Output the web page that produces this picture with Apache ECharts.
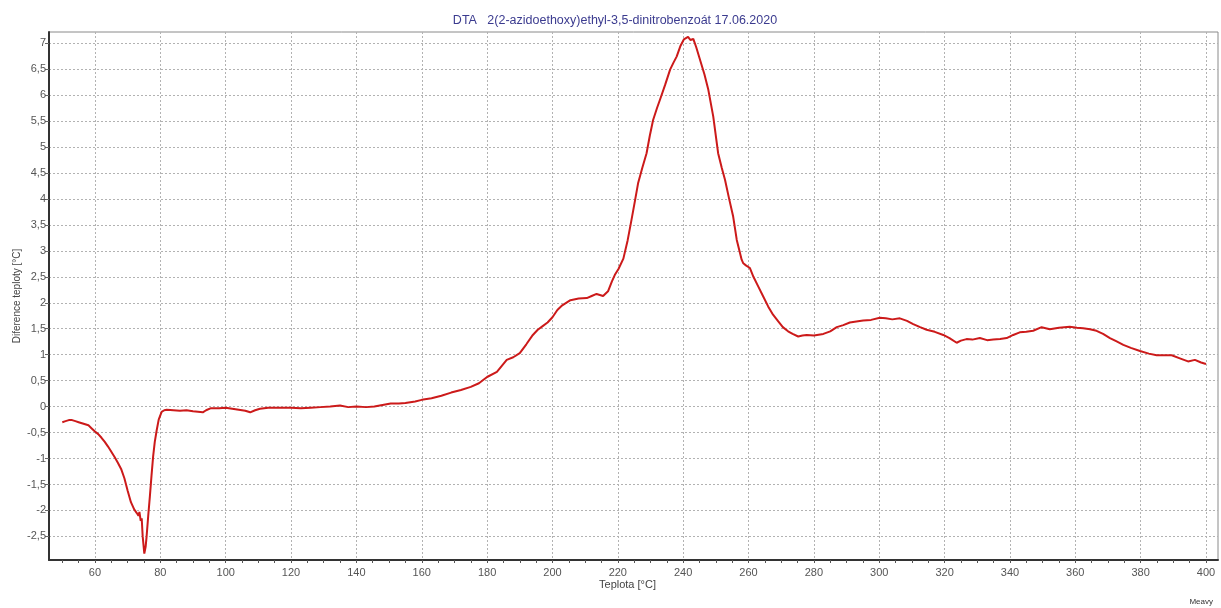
<!DOCTYPE html>
<html>
<head>
<meta charset="utf-8">
<title>DTA 2(2-azidoethoxy)ethyl-3,5-dinitrobenzoát</title>
<script src="https://cdn.jsdelivr.net/npm/echarts@6/dist/echarts.min.js"></script>
<style>
  html, body { margin: 0; padding: 0; background: #ffffff; }
  #chart { width: 1221px; height: 608px; }
</style>
</head>
<body>
<div id="chart"></div>
<script>
// Temperature [°C]
const teplota = [
  50, 51, 52, 53, 54, 55, 56, 57, 58, 59,
  60, 61, 62, 63, 64, 65, 66, 67, 68, 69,
  70, 71, 72, 72.8, 73.3, 73.6, 74.0, 74.3, 74.6, 75.1,
  75.5, 75.8, 76.3, 76.8, 77.3, 77.8, 78.3, 78.9, 79.5, 80.4,
  81.2, 82, 84, 86, 88, 90, 91.5, 93, 94, 95.5,
  98, 100, 102, 104, 106, 107.5, 109, 110.5, 113, 116,
  118.5, 120, 123, 126, 129, 132, 135, 137.5, 140, 143,
  145.5, 148, 150.5, 153, 155, 158, 160, 163, 166, 169,
  172, 175, 177.5, 180, 183, 186, 188, 190, 192, 194,
  195.5, 197, 198.5, 200, 201.5, 203, 205.5, 208, 210.5, 212,
  213.5, 215.5, 217, 218.2, 219.2, 220.2, 221.7, 223, 224.2, 225.3,
  226.2, 227.5, 228.8, 229.8, 230.8, 232, 232.9, 234.5, 236.0, 237.0,
  238.0, 239.2, 240.2, 240.8, 241.5, 242.2, 243.1, 244.0, 245.2, 246.5,
  247.7, 249.2, 250.7, 251.8, 252.8, 254.0, 255.3, 256.4, 257.9, 258.4,
  259.2, 260.4, 261.5, 263.0, 264.5, 266.0, 267.5, 269.1, 270.5, 272.1,
  273.5, 275.2, 276.5, 277.8, 280, 282.9, 285, 287.0, 289, 291.0,
  293, 295.1, 297.5, 300.2, 302, 304, 306.3, 308.5, 310.4, 312.5,
  314.5, 317, 319.6, 321.5, 323.7, 325, 326.7, 328.5, 330.8, 333,
  334.9, 337, 339.0, 341, 343.0, 345, 347.1, 349.7, 352.2, 355,
  358.3, 360.5, 362.4, 364.5, 366.5, 368.5, 370.6, 372.5, 374.7, 377,
  379.8, 382.5, 384.9, 387, 389.5, 392, 394.5, 396.6, 398.5, 400
];

// Temperature difference [°C]
const diference = [
  -0.30, -0.28, -0.26, -0.26, -0.28, -0.30, -0.32, -0.34, -0.36, -0.42,
  -0.48, -0.53, -0.60, -0.68, -0.77, -0.87, -0.97, -1.08, -1.20, -1.38,
  -1.62, -1.84, -1.98, -2.05, -2.10, -2.03, -2.20, -2.15, -2.50, -2.83,
  -2.70, -2.50, -2.10, -1.73, -1.33, -0.96, -0.68, -0.45, -0.25, -0.10,
  -0.07, -0.06, -0.07, -0.08, -0.07, -0.09, -0.10, -0.11, -0.07, -0.03,
  -0.03, -0.02, -0.04, -0.06, -0.08, -0.11, -0.07, -0.04, -0.02, -0.02,
  -0.02, -0.02, -0.03, -0.02, -0.01, 0.00, 0.02, -0.01, 0.00, -0.01,
  0.00, 0.03, 0.06, 0.06, 0.07, 0.10, 0.13, 0.16, 0.21, 0.27,
  0.32, 0.38, 0.45, 0.57, 0.67, 0.90, 0.95, 1.03, 1.20, 1.38,
  1.48, 1.55, 1.62, 1.72, 1.86, 1.95, 2.05, 2.08, 2.09, 2.13,
  2.17, 2.13, 2.22, 2.41, 2.55, 2.65, 2.85, 3.20, 3.60, 3.98,
  4.30, 4.60, 4.88, 5.22, 5.52, 5.75, 5.91, 6.20, 6.49, 6.62,
  6.74, 6.95, 7.07, 7.10, 7.12, 7.06, 7.08, 6.92, 6.67, 6.40,
  6.10, 5.59, 4.88, 4.60, 4.37, 4.02, 3.66, 3.21, 2.83, 2.76,
  2.72, 2.67, 2.50, 2.31, 2.12, 1.93, 1.77, 1.64, 1.53, 1.45,
  1.40, 1.35, 1.37, 1.38, 1.37, 1.40, 1.45, 1.53, 1.57, 1.62,
  1.64, 1.66, 1.67, 1.71, 1.70, 1.68, 1.70, 1.65, 1.59, 1.53,
  1.48, 1.44, 1.38, 1.32, 1.23, 1.27, 1.30, 1.29, 1.32, 1.28,
  1.29, 1.30, 1.32, 1.38, 1.43, 1.44, 1.46, 1.53, 1.49, 1.52,
  1.54, 1.52, 1.51, 1.49, 1.46, 1.40, 1.32, 1.26, 1.19, 1.13,
  1.07, 1.02, 0.99, 0.99, 0.99, 0.93, 0.87, 0.90, 0.85, 0.82
];

// Axis tick values
const xLabelTicks = [60, 80, 100, 120, 140, 160, 180, 200, 220, 240, 260, 280, 300, 320, 340, 360, 380, 400];
const xMinorTicks = [];
for (let t = 50; t <= 400; t += 5) xMinorTicks.push(t);
const yLabelTicks = [-2.5, -2, -1.5, -1, -0.5, 0, 0.5, 1, 1.5, 2, 2.5, 3, 3.5, 4, 4.5, 5, 5.5, 6, 6.5, 7];

const titleText = 'DTA   2(2-azidoethoxy)ethyl-3,5-dinitrobenzoát 17.06.2020';
const xName = 'Teplota [°C]';
const yName = 'Diference teploty [°C]';
const footer = 'Meavy';

const points = teplota.map((t, i) => [t, diference[i]]);

const FONT = '"Liberation Sans", Arial, sans-serif';
const X_MIN = 45.93, X_MAX = 403.67;
const Y_MIN = -2.954, Y_MAX = 7.214;
const GRID_LINE = { color: '#b2b2b2', type: [2, 2], width: 1 };

const chart = echarts.init(document.getElementById('chart'), null, { renderer: 'canvas' });

chart.setOption({
  animation: false,
  backgroundColor: '#ffffff',
  title: {
    text: titleText,
    left: 610,
    textAlign: 'center',
    top: 9,
    textStyle: { fontFamily: FONT, fontSize: 12.5, fontWeight: 'normal', color: '#3b3b8f' }
  },
  grid: {
    left: 49, right: 3, top: 32, bottom: 48,
    outerBoundsMode: 'none',
    containLabel: false,
    show: true, borderColor: '#8a8a8a', borderWidth: 1, backgroundColor: 'transparent'
  },
  xAxis: [
    {
      type: 'value',
      min: X_MIN, max: X_MAX,
      name: xName,
      nameLocation: 'middle',
      nameGap: 19,
      nameMoveOverlap: false,
      nameTextStyle: { fontFamily: FONT, fontSize: 11, color: '#444', padding: [0, 12, 0, 0] },
      axisLine: { show: true, onZero: false, lineStyle: { color: '#333', width: 2 } },
      axisTick: { show: false, customValues: xLabelTicks },
      axisLabel: {
        customValues: xLabelTicks,
        fontFamily: FONT, fontSize: 11, color: '#555', margin: 7
      },
      splitLine: { show: true, lineStyle: GRID_LINE }
    },
    {
      type: 'value',
      min: X_MIN, max: X_MAX,
      position: 'bottom',
      axisLine: { show: false, onZero: false },
      axisTick: { show: true, customValues: xMinorTicks, length: 3, lineStyle: { color: '#555', width: 1 } },
      axisLabel: { show: false },
      splitLine: { show: false }
    }
  ],
  yAxis: {
    type: 'value',
    min: Y_MIN, max: Y_MAX,
    name: yName,
    nameLocation: 'middle',
    nameGap: 27,
    nameMoveOverlap: false,
    nameTextStyle: { fontFamily: FONT, fontSize: 10, color: '#444' },
    axisLine: { show: true, onZero: false, lineStyle: { color: '#333', width: 2 } },
    axisTick: { show: true, customValues: yLabelTicks, length: 4, lineStyle: { color: '#666' } },
    axisLabel: {
      customValues: yLabelTicks,
      fontFamily: FONT, fontSize: 11, color: '#555', margin: 3,
      formatter: v => String(v).replace('.', ',')
    },
    splitLine: { show: true, lineStyle: GRID_LINE }
  },
  graphic: [
    {
      type: 'text',
      right: 8, bottom: 2,
      style: { text: footer, fontFamily: FONT, fontSize: 8, fill: '#333' }
    }
  ],
  series: [
    {
      type: 'line',
      xAxisIndex: 0,
      data: points,
      showSymbol: false,
      lineStyle: { color: '#cc1a1a', width: 2 },
      itemStyle: { color: '#cc1a1a' }
    }
  ]
});
</script>
</body>
</html>
